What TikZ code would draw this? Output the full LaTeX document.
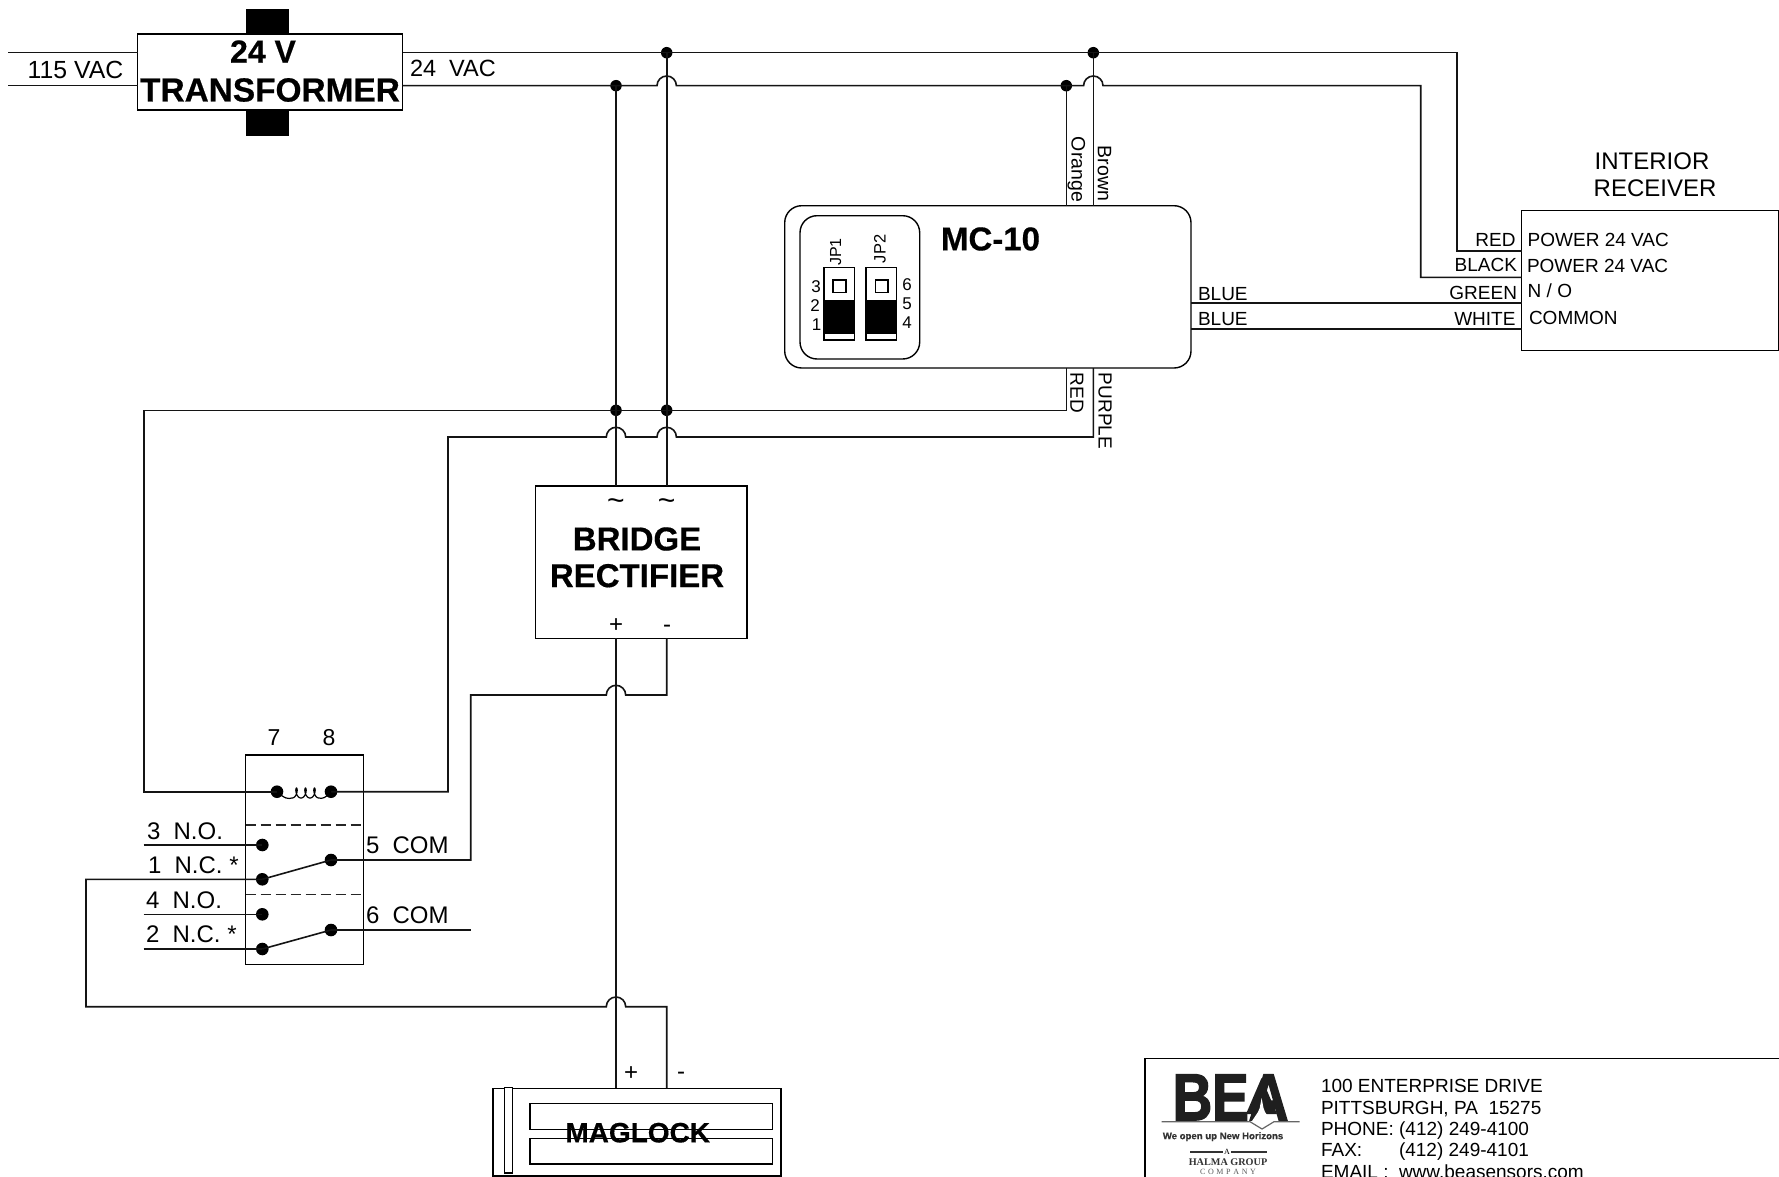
\documentclass[tikz,border=0pt]{standalone}
\usepackage{fontspec}
\setmainfont{Liberation Sans}
\newfontfamily\serifx{Liberation Serif}
\newfontfamily\hvy[BoldFeatures={FakeBold=0.5}]{Liberation Sans}
\newfontfamily\logofont[BoldFeatures={FakeBold=2.5}]{Liberation Sans}
\tikzset{
  sz/.style={font=\fontsize{#1}{#1}\selectfont},
  bsz/.style={font=\hvy\fontsize{#1}{#1}\selectfont\bfseries},
  wire/.style={line width=1.6pt,draw=black!92,line join=miter},
  boxs/.style={draw=black,line width=1.4pt,fill=white,rectangle,inner sep=0pt,outer sep=0pt},
  solidblk/.style={fill=black,draw=none,rectangle,inner sep=0pt,outer sep=0pt},
  dot/.style={circle,fill=black,draw=none,inner sep=0pt,outer sep=0pt,minimum size=11.5pt},
  bigdot/.style={circle,fill=black,draw=none,inner sep=0pt,outer sep=0pt,minimum size=12.6pt},
  tl/.style={inner sep=0pt,outer sep=0pt,anchor=base west},
  tr/.style={inner sep=0pt,outer sep=0pt,anchor=base east},
  tc/.style={inner sep=0pt,outer sep=0pt,anchor=center},
  rot/.style={inner sep=0pt,outer sep=0pt,anchor=center,rotate=-90},
  rotl/.style={inner sep=0pt,outer sep=0pt,anchor=center,rotate=90},
}
\def\hop{arc[start angle=180,end angle=0,radius=9.7pt]}
\begin{document}
\begin{tikzpicture}[x=1pt,y=-1pt]
\useasboundingbox (0,0) rectangle (1779,1177);
\clip (0,0) rectangle (1779,1177);
\fill[white] (0,0) rectangle (1779,1177);

% --- named points on the wires
\coordinate (inA) at (8,52.7);
\coordinate (inB) at (8,85.7);
\coordinate (topR) at (1457,52.7);
\coordinate (kneeR) at (1457,250.7);
\coordinate (botR) at (1420.7,85.7);
\coordinate (kneeB) at (1420.7,277.3);
\coordinate (hA1) at (656.99,85.7);
\coordinate (hA2) at (1083.6,85.7);
\coordinate (hB1) at (606.3,437);
\coordinate (hB2) at (656.99,437);
\coordinate (hC1) at (606.3,695);
\coordinate (hD1) at (606.3,1006.7);
\coordinate (cpLeft) at (143.7,410.3);
\coordinate (cpRight) at (448,437);
\coordinate (purpleK) at (1093.3,437);
\coordinate (redK) at (1066.3,410.3);
\coordinate (c5a) at (470.7,860);
\coordinate (c5b) at (470.7,695);
\coordinate (c6a) at (470.7,930);
\coordinate (minusK) at (666.7,695);
\coordinate (ncA) at (86,879.3);
\coordinate (ncB) at (86,1006.7);
\coordinate (mgK) at (666.7,1006.7);
\coordinate (eNO3) at (143.7,845);
\coordinate (eNO4) at (143.7,914.3);
\coordinate (eNC2) at (143.7,949);
\coordinate (greenR) at (1521.6,303);
\coordinate (whiteR) at (1521.6,328.7);

% --- transformer
\node[solidblk,minimum width=43pt,minimum height=127pt] (core) at (267.5,72.5) {};
\node[boxs,minimum width=265pt,minimum height=76pt] (xfmr) at (270,72) {};
\node[bsz=32,tc] (xf1) at (263,51.5) {24 V};
\node[bsz=33.4,tc] (xf2) at (270,90) {TRANSFORMER};

% --- boxes
\node[boxs,minimum width=211.3pt,minimum height=152.3pt] (bridge) at (641.35,562.15) {};
\node[boxs,minimum width=406.3pt,minimum height=162.3pt,rounded corners=17pt] (mc) at (987.85,286.85) {};
\node[boxs,minimum width=119.7pt,minimum height=143.3pt,rounded corners=17pt] (jpbox) at (859.85,287.35) {};
\node[boxs,minimum width=256.9pt,minimum height=140pt] (recv) at (1650.05,280.7) {};
\node[boxs,minimum width=117.6pt,minimum height=209.3pt] (relay) at (304.5,859.65) {};
\node[boxs,minimum width=288pt,minimum height=87.7pt] (mag) at (637,1132.15) {};
\node[boxs,minimum width=8pt,minimum height=85.3pt] (magstrip) at (508.3,1130.35) {};
\node[boxs,minimum width=242.7pt,minimum height=26pt] (magbarA) at (651.35,1116.3) {};
\node[boxs,minimum width=242.7pt,minimum height=25.7pt] (magbarB) at (651.35,1151.15) {};

% --- dots
\node[dot] (dA) at (666.7,52.7) {};
\node[dot] (dB) at (1093.3,52.7) {};
\node[dot] (dC) at (616,85.7) {};
\node[dot] (dD) at (1066.3,85.7) {};
\node[dot] (dE) at (616,410.3) {};
\node[dot] (dF) at (666.7,410.3) {};
\node[bigdot] (r7) at (277,791.7) {};
\node[bigdot] (r8) at (331,791.7) {};
\node[bigdot] (r3) at (262.3,845) {};
\node[bigdot] (r1) at (262.3,879.3) {};
\node[bigdot] (r5) at (331,860) {};
\node[bigdot] (r4) at (262.3,914.3) {};
\node[bigdot] (r2) at (262.3,949) {};
\node[bigdot] (r6) at (331,930) {};

% --- wires
\draw[wire] (inA) -- (xfmr.west |- inA);
\draw[wire] (inB) -- (xfmr.west |- inB);
\draw[wire] (xfmr.east |- dA) -- (dA.center) -- (dB.center) -- (topR) -- (kneeR) -- (recv.west |- kneeR);
\draw[wire] (xfmr.east |- dC) -- (dC.center) -- (hA1) \hop -- (dD.center) -- (hA2) \hop -- (botR) -- (kneeB) -- (recv.west |- kneeB);
\draw[wire] (dC.center) -- (dE.center) -- (dC.center |- bridge.north);
\draw[wire] (dA.center) -- (dF.center) -- (dA.center |- bridge.north);
\draw[wire] (dD.center) -- (dD.center |- mc.north);
\draw[wire] (dB.center) -- (dB.center |- mc.north);
\draw[wire] (redK |- mc.south) -- (redK) -- (dF.center) -- (dE.center) -- (cpLeft) -- (cpLeft |- r7) -- (r7.center);
\draw[wire] (purpleK |- mc.south) -- (purpleK) -- ([xshift=19.4pt]hB2) arc[start angle=0,end angle=180,radius=9.7pt] -- ([xshift=19.4pt]hB1) arc[start angle=0,end angle=180,radius=9.7pt] -- (cpRight) -- (cpRight |- r8) -- (r8.center);
\draw[wire] (dC.center |- bridge.south) -- (dC.center |- mag.north);
\draw[wire] (minusK |- bridge.south) -- (minusK) -- ([xshift=19.4pt]hC1) arc[start angle=0,end angle=180,radius=9.7pt] -- (c5b) -- (c5a) -- (r5.center);
\draw[wire] (r1.center) -- (ncA) -- (ncB) -- (hD1) \hop -- (mgK) -- (mgK |- mag.north);
\draw[wire] (eNO3) -- (r3.center);
\draw[wire] (eNO4) -- (r4.center);
\draw[wire] (eNC2) -- (r2.center);
\draw[wire] (r6.center) -- (c6a);
\draw[wire] (r1.center) -- (r5.center);
\draw[wire] (r2.center) -- (r6.center);
\draw[wire] (mc.east |- greenR) -- (greenR);
\draw[wire] (mc.east |- whiteR) -- (whiteR);
% coil
\draw[line width=1.2pt] (r7.center) .. controls (285,799) and (288,799) .. (292,798)
  plot[domain=0:1080,samples=145,smooth] ({292+0.025*\x+2.5*sin(\x)},{793+5*cos(\x)})
  .. controls (322,799) and (326,798) .. (r8.center);
% relay separators
\draw[line width=1.4pt,black!85,dash pattern=on 10pt off 5pt] (relay.west |- 0,825) -- (relay.east |- 0,825);
\draw[line width=1.4pt,black!85,dash pattern=on 10pt off 5pt] (relay.west |- 0,894.3) -- (relay.east |- 0,894.3);

% --- jumpers
\node[boxs,minimum width=30.3pt,minimum height=72.7pt] (jp1) at (839.15,303.65) {};
\node[boxs,minimum width=30.3pt,minimum height=72.7pt] (jp2) at (881.15,303.65) {};
\node[solidblk,minimum width=30.3pt,minimum height=34pt] (jp1b) at (839.15,317) {};
\node[solidblk,minimum width=30.3pt,minimum height=34pt] (jp2b) at (881.15,317) {};
\node[boxs,minimum width=13pt,minimum height=12.7pt] (jp1s) at (839.5,286.3) {};
\node[boxs,minimum width=12.7pt,minimum height=12.7pt] (jp2s) at (881.65,286.3) {};
\node[rotl,sz=16] (tjp1) at (835.7,252) {JP1};
\node[rotl,sz=16.5] (tjp2) at (880,249) {JP2};
\node[tc,sz=17] (p3) at (816,286.7) {3};
\node[tc,sz=17] (p2) at (815,306) {2};
\node[tc,sz=17] (p1) at (816.5,325) {1};
\node[tc,sz=17] (p6) at (907,285) {6};
\node[tc,sz=17] (p5) at (907,304) {5};
\node[tc,sz=17] (p4) at (907,323) {4};
\node[bsz=33,tc] (tmc) at (990.5,239) {MC-10};

% --- text
\node[tl,sz=24.8] (t115) at (27.7,79) {115 VAC};
\node[tl,sz=23.5] (t24) at (410,76.7) {24\ \ VAC};
\node[rot,sz=19.5] (tor) at (1076.5,169.5) {Orange};
\node[rot,sz=19.5] (tbr) at (1104.5,173.5) {Brown};
\node[rot,sz=19] (tre) at (1077,393) {RED};
\node[rot,sz=19] (tpu) at (1105,411) {PURPLE};
\node[tc,sz=30] (tilA) at (616,505) {\char`\~};
\node[tc,sz=30] (tilB) at (666.7,505) {\char`\~};
\node[bsz=33,tc] (tbr1) at (637,539) {BRIDGE};
\node[bsz=33,tc] (tbr2) at (637,575.7) {RECTIFIER};
\node[tc,sz=24] (tpl) at (616,626) {+};
\node[tc,sz=24] (tmi) at (667,629) {-};
\node[tc,sz=24] (mpl) at (631,1074) {+};
\node[tc,sz=24] (mmi) at (681,1076) {-};
\node[bsz=28,tc] (tmag) at (637.7,1132.7) {MAGLOCK};
\node[tc,sz=23] (t7) at (274,737.7) {7};
\node[tc,sz=23] (t8) at (329,737.7) {8};
\node[tl,sz=24] (lno3) at (147,839) {3\ \ N.O.};
\node[tl,sz=24] (lnc1) at (148,873) {1\ \ N.C. *};
\node[tl,sz=24] (lno4) at (146,908.7) {4\ \ N.O.};
\node[tl,sz=24] (lnc2) at (146,942.7) {2\ \ N.C. *};
\node[tl,sz=24] (lc5) at (366,853) {5\ \ COM};
\node[tl,sz=24] (lc6) at (366,923) {6\ \ COM};
\node[tl,sz=19] (tb1) at (1198,300) {BLUE};
\node[tl,sz=19] (tb2) at (1198,325.7) {BLUE};
\node[tr,sz=19] (wr) at (1515.5,246.7) {RED};
\node[tr,sz=19] (wb) at (1517,271) {BLACK};
\node[tr,sz=19] (wg) at (1517,299) {GREEN};
\node[tr,sz=19] (ww) at (1515.5,325) {WHITE};
\node[tl,sz=19] (pw1) at (1527.7,246) {POWER 24 VAC};
\node[tl,sz=19] (pw2) at (1527,272) {POWER 24 VAC};
\node[tl,sz=19] (pno) at (1527.7,297) {N / O};
\node[tl,sz=19] (pco) at (1529,324) {COMMON};
\node[sz=24,anchor=base,inner sep=0pt] (ir1) at (1652,170) {INTERIOR};
\node[sz=24,anchor=base,inner sep=0pt] (ir2) at (1655,196.7) {RECEIVER};

% --- title block
\draw[line width=1.4pt] (1145,1177) -- (1145,1058.7) -- (1779,1058.7);
\node[font=\logofont\fontsize{66}{66}\selectfont\bfseries,inner sep=0pt,outer sep=0pt,anchor=base,xscale=.83,text=black!88] (logo) at (1230.5,1120) {BEA};
\fill[black!88] (1261.5,1078) -- (1246,1114) -- (1277,1114) -- cycle;
\fill[white] (1261.6,1098) -- (1263.5,1108) -- (1265,1112) -- (1271,1121) -- (1252,1121) -- (1258,1112) -- (1259.7,1108) -- cycle;
\draw[black!60,line width=1.2pt] (1161.5,1121.7) -- (1250,1121.7) -- (1262,1129) -- (1274,1121.7) -- (1299.7,1121.7);
\node[font=\hvy\fontsize{9.6}{9.6}\selectfont\bfseries,tc,text=black!80] (we) at (1223,1136.7) {We open up New Horizons};
\node[tc,font=\serifx\fontsize{8}{8}\selectfont] (ha) at (1227,1151.7) {A};
\draw[line width=1.2pt,black!80] (1190,1152) -- (1223,1152);
\draw[line width=1.2pt,black!80] (1231,1152) -- (1266.6,1152);
\node[tc,font=\serifx\bfseries\fontsize{10.2}{10}\selectfont,text=black!80] (hg) at (1228,1161.7) {HALMA GROUP};
\node[tc,font=\serifx\fontsize{8}{8}\selectfont,text=black!65] (hc) at (1228,1172) {C\,\,O\,\,M\,\,P\,\,A\,\,N\,\,Y};
\node[tl,sz=19] (ad1) at (1321,1092.5) {100 ENTERPRISE DRIVE};
\node[tl,sz=19] (ad2) at (1321,1114) {PITTSBURGH, PA\ \ 15275};
\node[tl,sz=19] (ad3) at (1321,1135.5) {PHONE: (412) 249-4100};
\node[tl,sz=19] (ad4) at (1321,1156.5) {FAX:};
\node[tl,sz=19] (ad4b) at (1399,1156.5) {(412) 249-4101};
\node[tl,sz=19] (ad5) at (1321,1178.5) {EMAIL :};
\node[tl,sz=19] (ad5b) at (1399,1178.5) {www.beasensors.com};
\end{tikzpicture}
\end{document}
